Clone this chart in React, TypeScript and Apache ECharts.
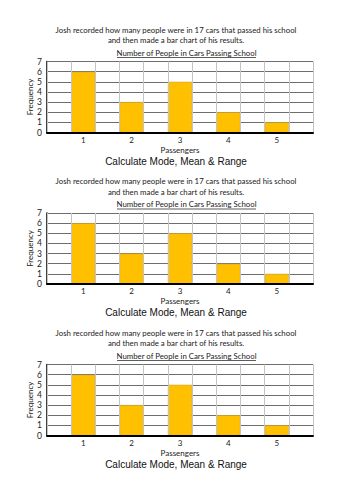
import React, { useEffect, useRef } from "react";
import * as echarts from "echarts";

const passengers = ["1", "2", "3", "4", "5"];
const frequency = [6, 3, 5, 2, 1];
const yMin = 0;
const yMax = 7;
const yInterval = 1;
const introLine1 = "Josh recorded how many people were in 17 cars that passed his school";
const introLine2 = "and then made a bar chart of his results.";
const chartTitle = "Number of People in Cars Passing School";
const xName = "Passengers";
const yName = "Frequency";
const task = "Calculate Mode, Mean & Range";
const panelTops = [61.5, 213, 364.5];

// 11 column slots: empty, bar, empty, bar, ..., empty
const slotCats: string[] = [];
const slotVals: (number | string)[] = [];
passengers.forEach((p, i) => {
  slotCats.push("");
  slotVals.push("-");
  slotCats.push(p);
  slotVals.push(frequency[i]);
});
slotCats.push("");
slotVals.push("-");

const SMALL = "Lato, 'Open Sans', sans-serif";
const BIG = "'Liberation Sans', Arial, sans-serif";

export default function App() {
  const ref = useRef<HTMLDivElement>(null);
  useEffect(() => {
    const chart = echarts.init(ref.current!, undefined, { renderer: "svg" });
    const grids: any[] = [];
    const xAxes: any[] = [];
    const yAxes: any[] = [];
    const series: any[] = [];
    const graphics: any[] = [];
    panelTops.forEach((T, i) => {
      grids.push({ left: 47, width: 266, top: T, height: 71 });
      xAxes.push({
        type: "category",
        gridIndex: i,
        data: slotCats,
        boundaryGap: true,
        axisLine: { show: true, lineStyle: { color: "#000", width: 2 } },
        axisTick: { show: false },
        axisLabel: { interval: 0, margin: 3, fontSize: 8, color: "#222", fontFamily: SMALL },
        splitLine: { show: true, interval: 0, lineStyle: { color: "#c4c4c4", width: 1 } },
        name: xName,
        nameLocation: "middle",
        nameGap: 13,
        nameMoveOverlap: false,
        nameTextStyle: { fontSize: 8, color: "#222", fontFamily: SMALL },
        z: 3,
      });
      yAxes.push({
        type: "value",
        gridIndex: i,
        min: yMin,
        max: yMax,
        interval: yInterval,
        axisLine: { show: true, lineStyle: { color: "#000", width: 1.5 } },
        axisTick: { show: false },
        axisLabel: { margin: 5, fontSize: 8.5, color: "#222", fontFamily: SMALL },
        splitLine: { show: true, lineStyle: { color: "#6e6e6e", width: 1 } },
        name: yName,
        nameLocation: "middle",
        nameGap: 13,
        nameMoveOverlap: false,
        nameTextStyle: { fontSize: 8, color: "#222", fontFamily: SMALL },
      });
      series.push({
        type: "bar",
        xAxisIndex: i,
        yAxisIndex: i,
        data: slotVals,
        barWidth: "100%",
        itemStyle: { color: "#FFC000", borderColor: "#c9a040", borderWidth: 0.5 },
        z: 2,
      });
      graphics.push(
        {
          type: "text",
          x: 176,
          y: T - 32,
          style: { text: introLine1, fontSize: 7.8, fontFamily: SMALL, fill: "#222", textAlign: "center", textVerticalAlign: "middle" },
        },
        {
          type: "text",
          x: 176,
          y: T - 21.5,
          style: { text: introLine2, fontSize: 7.8, fontFamily: SMALL, fill: "#222", textAlign: "center", textVerticalAlign: "middle" },
        },
        {
          type: "text",
          x: 186.5,
          y: T - 8.8,
          style: { text: chartTitle, fontSize: 7.8, fontFamily: SMALL, fill: "#222", textAlign: "center", textVerticalAlign: "middle" },
        },
        {
          type: "line",
          shape: { x1: 117, y1: T - 4, x2: 256, y2: T - 4 },
          style: { stroke: "#333", lineWidth: 0.8 },
        },
        {
          type: "text",
          x: 176,
          y: T + 99.5,
          style: { text: task, fontSize: 10, fontFamily: BIG, fill: "#111", textAlign: "center", textVerticalAlign: "middle" },
        }
      );
    });
    chart.setOption({
      animation: false,
      backgroundColor: "#fff",
      grid: grids,
      xAxis: xAxes,
      yAxis: yAxes,
      series,
      graphic: graphics,
    });
    return () => chart.dispose();
  }, []);
  return <div ref={ref} style={{ position: "absolute", left: 0, top: 0, width: 353, height: 500 }} />;
}
